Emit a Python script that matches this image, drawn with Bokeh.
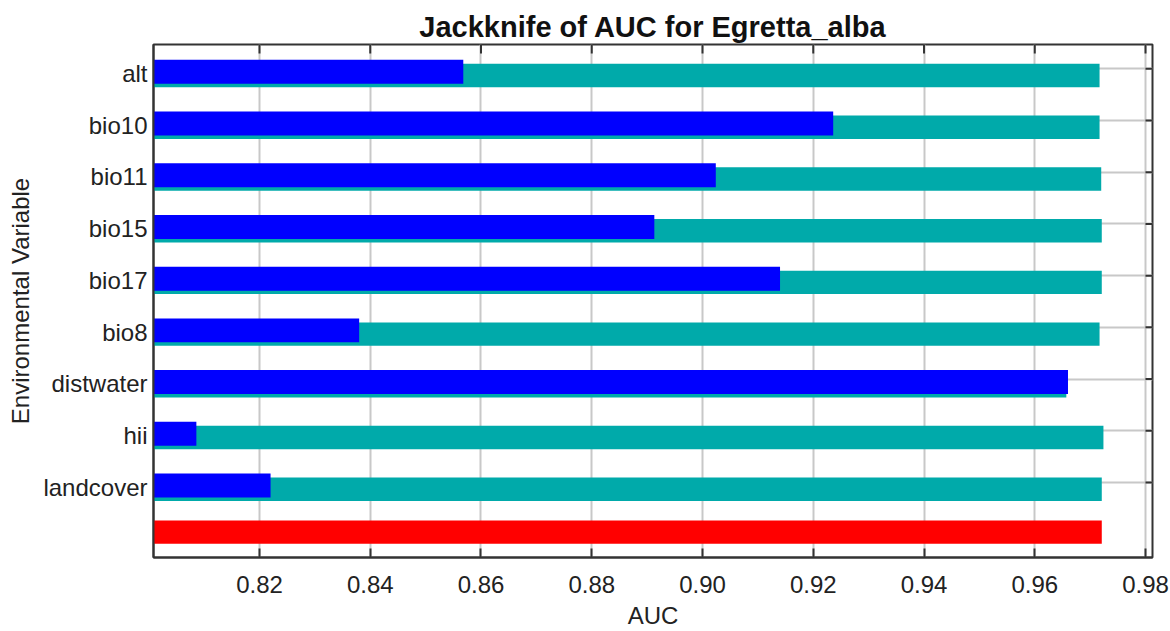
from bokeh.plotting import figure
from bokeh.models import (Range1d, FixedTicker, NumeralTickFormatter, Label, ColumnDataSource)
from bokeh.transform import dodge
from bokeh.embed import file_html
from bokeh.resources import INLINE

# ---- data ----
variables = ["alt", "bio10", "bio11", "bio15", "bio17", "bio8", "distwater", "hii", "landcover"]
auc_without = [0.9717, 0.9717, 0.9720, 0.9721, 0.9721, 0.9717, 0.9657, 0.9724, 0.9721]
auc_only = [0.8568, 0.9236, 0.9024, 0.8913, 0.9140, 0.8380, 0.9660, 0.8086, 0.8220]
auc_all = [0.9721]
x_ticks = [0.82, 0.84, 0.86, 0.88, 0.90, 0.92, 0.94, 0.96, 0.98]
legend_labels = ["Without variable", "With only variable"]

FONT = "Liberation Sans"
TXT = "#222222"
AX = "#333333"

X0, X1 = 0.80086, 0.98126
Y_TOP, Y_BOT = -0.47, 9.45
PX_X = 999 / (X1 - X0)          # pixels per AUC unit
PX_Y = 513 / (Y_BOT - Y_TOP)    # pixels per row

rows = list(range(len(variables)))
src = ColumnDataSource(dict(var=variables, row=rows, without=auc_without, only=auc_only))
src_all = ColumnDataSource(dict(row=[len(variables)], val=auc_all))

p = figure(width=1170, height=631, output_backend="svg", toolbar_location=None,
           x_range=Range1d(X0, X1), y_range=Range1d(Y_BOT, Y_TOP),
           min_border_left=153, min_border_right=18, min_border_top=44,
           min_border_bottom=74, title="Jackknife of AUC for Egretta_alba")
p.background_fill_color = "white"
p.border_fill_color = "white"
p.outline_line_color = AX
p.outline_line_width = 2

base = 0.79
p.hbar(y=dodge("row", 0.13), height=0.453, left=base, right="without", source=src,
       fill_color="#00AAAA", line_color=None)
p.hbar(y=dodge("row", 0.058), height=0.464, left=base, right="only", source=src,
       fill_color="#0000FF", line_color=None)
p.hbar(y=dodge("row", -0.04), height=0.45, left=base, right="val", source=src_all,
       fill_color="#FF0000", line_color=None)

# inward tick marks on the top and right frame edges
p.segment(x0=x_ticks, x1=x_ticks, y0=[Y_TOP] * len(x_ticks),
          y1=[Y_TOP + 9 / PX_Y] * len(x_ticks), line_color=AX, line_width=2)
p.segment(x0=[X1 - 7 / PX_X] * len(rows), x1=[X1] * len(rows), y0=rows, y1=rows,
          line_color=AX, line_width=2)

# title
p.title.text_font = FONT
p.title.text_font_size = "29px"
p.title.text_font_style = "bold"
p.title.text_color = "#111111"
p.title.align = "center"
p.title.standoff = 3

# bottom axis
xa = p.xaxis[0]
xa.ticker = FixedTicker(ticks=x_ticks)
xa.formatter = NumeralTickFormatter(format="0.00")
xa.major_tick_in = 9
xa.major_tick_out = 0
xa.minor_tick_in = 0
xa.minor_tick_out = 0
xa.major_label_standoff = 18
xa.major_label_text_font = FONT
xa.major_label_text_font_size = "24px"
xa.major_label_text_color = TXT
xa.axis_label = "AUC"
xa.axis_label_text_font = FONT
xa.axis_label_text_font_size = "24px"
xa.axis_label_text_font_style = "normal"
xa.axis_label_text_color = TXT
xa.axis_label_standoff = 6
xa.axis_line_color = AX
xa.axis_line_width = 2
xa.major_tick_line_color = AX
xa.major_tick_line_width = 2

# left axis
ya = p.yaxis[0]
label_pos = [r + 0.09 for r in rows]
ya.ticker = FixedTicker(ticks=label_pos)
ya.major_label_overrides = {pos: name for pos, name in zip(label_pos, variables)}
ya.major_tick_in = 0
ya.major_tick_out = 0
ya.minor_tick_in = 0
ya.minor_tick_out = 0
ya.major_label_standoff = 6
ya.major_label_text_font = FONT
ya.major_label_text_font_size = "24px"
ya.major_label_text_color = TXT
ya.axis_label = "Environmental Variable"
ya.axis_label_text_font = FONT
ya.axis_label_text_font_size = "24px"
ya.axis_label_text_font_style = "normal"
ya.axis_label_text_color = TXT
ya.axis_label_standoff = 6
ya.axis_line_color = AX
ya.axis_line_width = 2

# grids
p.xgrid.ticker = FixedTicker(ticks=x_ticks)
p.xgrid.grid_line_color = "#C8C8C8"
p.xgrid.grid_line_width = 2
p.ygrid.ticker = FixedTicker(ticks=rows)
p.ygrid.grid_line_color = "#C8C8C8"
p.ygrid.grid_line_width = 2

# legend text (cut off at the right edge, as in the reference)
for i, t in enumerate(legend_labels):
    p.add_layout(Label(x=X1 + 11 / PX_X, y=0.574 + 0.66 * i, text=t, text_font=FONT,
                       text_font_size="24px", text_color=TXT, text_baseline="middle"))

open("out.html", "w").write(file_html(p, INLINE))
